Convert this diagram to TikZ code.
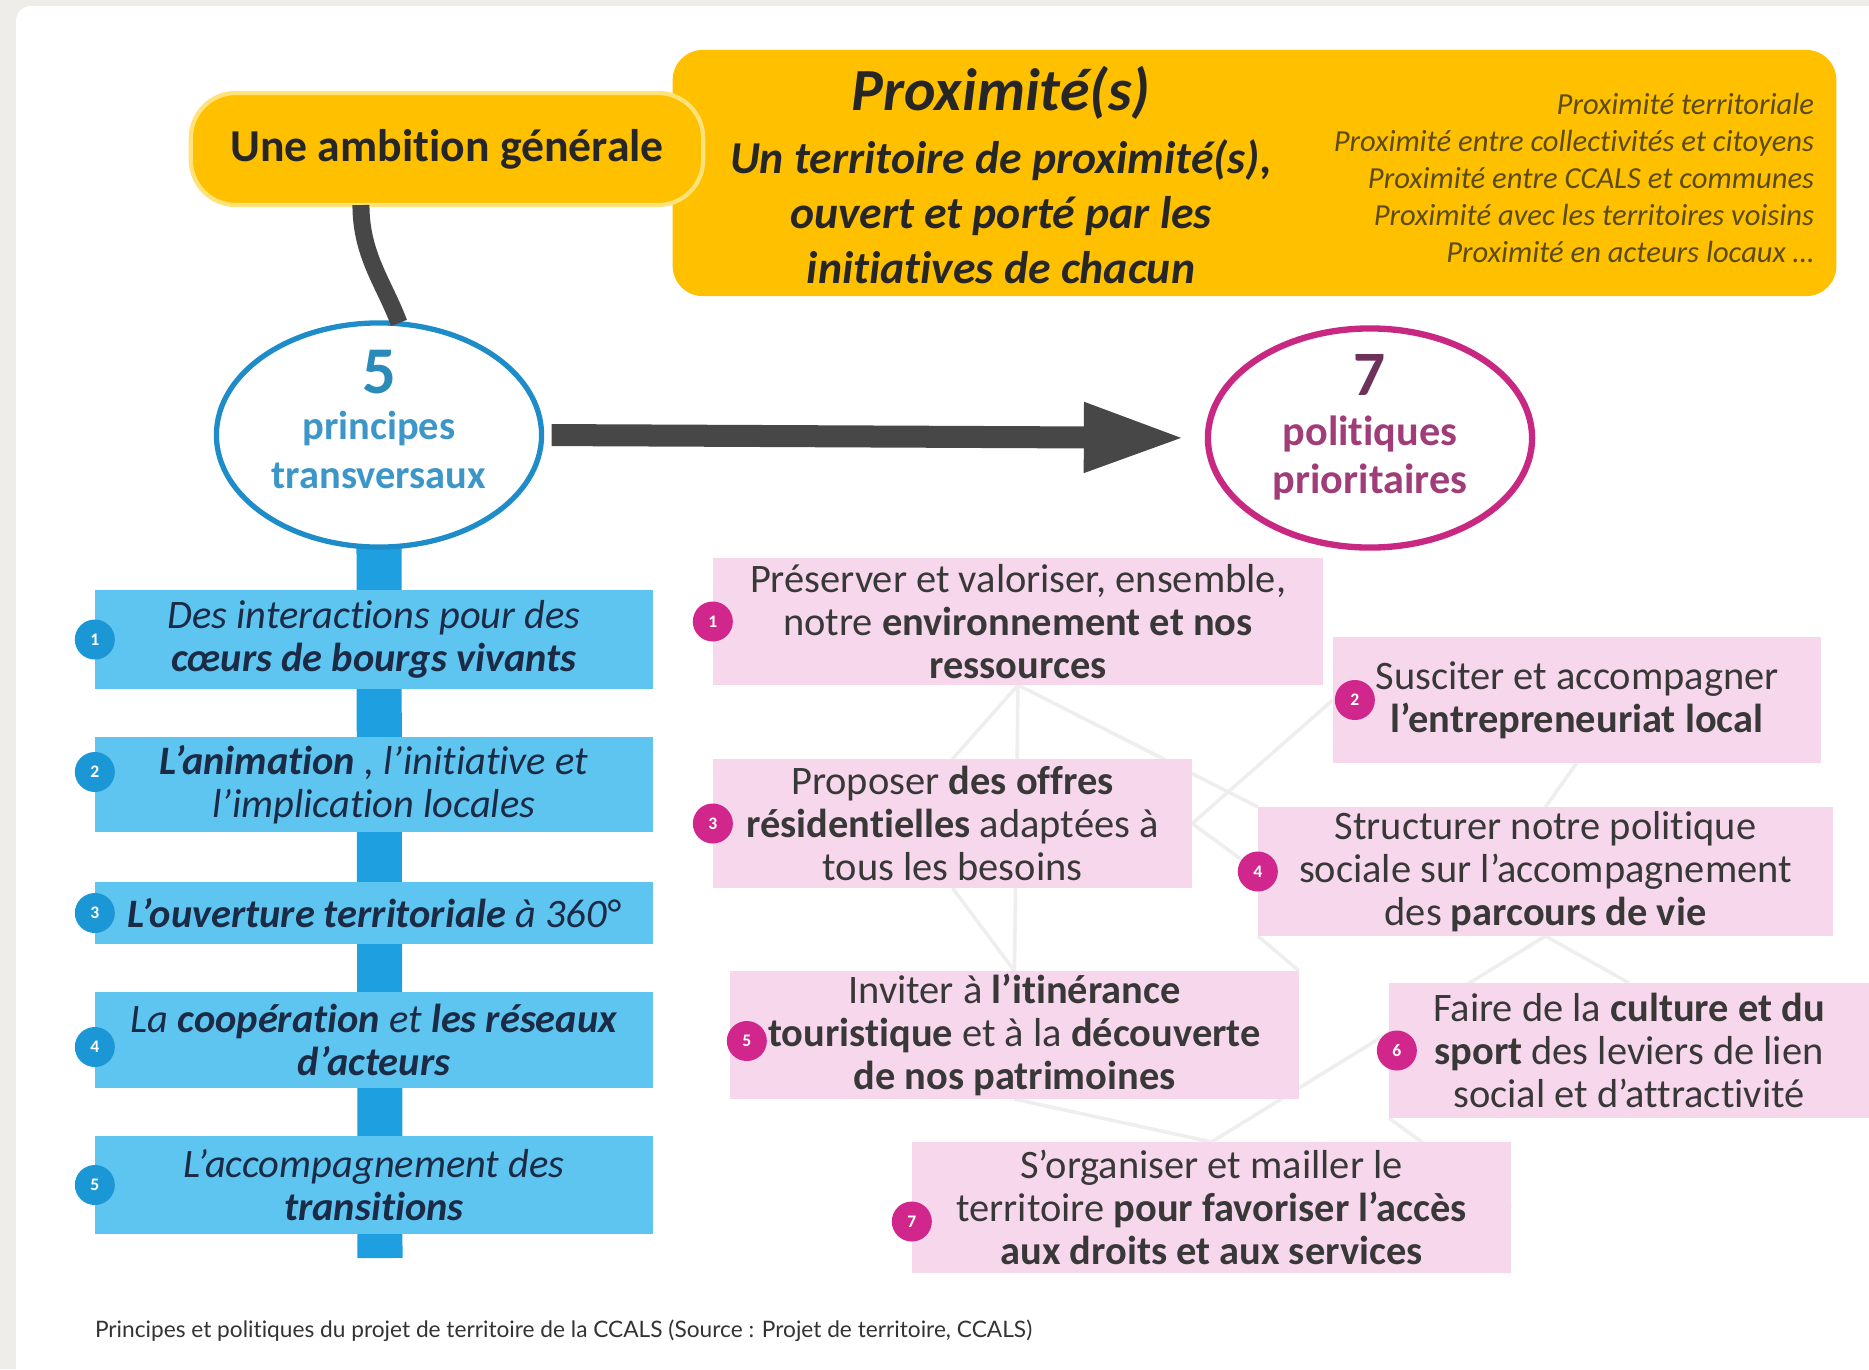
\documentclass[tikz,border=0pt]{standalone}
\usepackage{fontspec}
\setmainfont{Carlito}[Ligatures=NoCommon]
\newfontfamily\capfont{Lato}[Ligatures=NoCommon]
\usetikzlibrary{positioning,shapes.geometric,arrows.meta,backgrounds}
\pgfdeclarelayer{card}
\pgfsetlayers{card,background,main}

\definecolor{gold}{HTML}{FFC000}
\definecolor{goldline}{HTML}{FFE27A}
\definecolor{ink}{HTML}{262626}
\definecolor{greyarr}{HTML}{474747}
\definecolor{skyfill}{HTML}{5EC4F0}
\definecolor{skydark}{HTML}{1C97D6}
\definecolor{spinecol}{HTML}{1EA0E0}
\definecolor{navy}{HTML}{1B2A45}
\definecolor{ringblue}{HTML}{1E8CC8}
\definecolor{txtblue}{HTML}{3C96C8}
\definecolor{numblue}{HTML}{2A8AB8}
\definecolor{pinkfill}{HTML}{F7D7EC}
\definecolor{badgepink}{HTML}{D1278C}
\definecolor{ringpink}{HTML}{C82882}
\definecolor{txtpink}{HTML}{A03C78}
\definecolor{numpink}{HTML}{6E325A}
\definecolor{beige}{HTML}{EFEDE9}
\definecolor{meshcol}{HTML}{EEEEEE}
\definecolor{smalltxt}{HTML}{5C4B12}
\definecolor{captxt}{HTML}{333333}

\begin{document}
\begin{tikzpicture}[
    x=0.01cm, y=0.01cm,
    every node/.style={inner sep=0pt, outer sep=0pt},
    ambbox/.style={rectangle, rounded corners=0.45cm, fill=gold, draw=goldline, line width=1.2pt,
      minimum width=5.12cm, minimum height=1.12cm, text=ink, font={\bfseries\fontsize{13}{15}\selectfont}},
    proxbox/.style={rectangle, rounded corners=0.3cm, fill=gold, minimum width=11.63cm, minimum height=2.46cm},
    ell5/.style={ellipse, draw=ringblue, line width=1.5pt, fill=white, minimum width=3.25cm, minimum height=2.24cm},
    ell7/.style={ellipse, draw=ringpink, line width=1.8pt, fill=white, minimum width=3.24cm, minimum height=2.19cm},
    prin/.style={rectangle, fill=skyfill, minimum width=5.58cm, align=center, text=navy,
      font={\itshape\fontsize{11.5}{12.3}\selectfont}},
    pol/.style={rectangle, fill=pinkfill, align=center, text=black!78,
      font={\fontsize{11.5}{12.3}\selectfont}},
    bb/.style={circle, fill=skydark, minimum size=0.4cm, text=white, font={\bfseries\fontsize{5}{5}\selectfont}},
    pb/.style={circle, fill=badgepink, minimum size=0.4cm, text=white, font={\bfseries\fontsize{5}{5}\selectfont}},
    conn/.style={draw=greyarr, line width=0.17cm},
    bigarr/.style={draw=greyarr, line width=0.22cm, -{Triangle[length=1.02cm, width=0.64cm]},
      shorten <=0.1cm, shorten >=0.22cm},
    spine/.style={draw=spinecol, line width=0.45cm},
    mesh/.style={draw=meshcol, line width=1pt}
  ]
  \useasboundingbox (0,0) rectangle (1869,-1369);

  % card behind everything
  \begin{pgfonlayer}{card}
    \fill[beige] (0,0) rectangle (1869,-1369);
    \fill[white, rounded corners=0.15cm] (16,-6) rectangle (1950,-1450);
  \end{pgfonlayer}

  % Top boxes
  \node[proxbox] (prox) at (1254.5,-173) {};
  \node[ambbox] (amb) at (447,-149) {Une ambition générale};
  \node[text=ink, font={\bfseries\itshape\fontsize{17}{19}\selectfont}] (proxtitle) at (1001,-93) {Proximité(s)};
  \node[text=ink, align=center, font={\bfseries\itshape\fontsize{13}{15.6}\selectfont}] (proxsub) at (1001,-212)
    {Un territoire de proximité(s),\\ouvert et porté par les\\initiatives de chacun};
  \node[anchor=east, text=smalltxt, align=right, font={\itshape\fontsize{8.7}{10.5}\selectfont}] (proxlist) at (1814,-178)
    {Proximité territoriale\\Proximité entre collectivités et citoyens\\Proximité entre CCALS et communes\\Proximité avec les territoires voisins\\Proximité en acteurs locaux …};

  % The two ellipses
  \node[ell5] (cinq) at (379,-435) {};
  \node[text=numblue, font={\bfseries\fontsize{19}{21}\selectfont}] (cinqnum) at (379,-372) {5};
  \node[text=txtblue, align=center, font={\bfseries\fontsize{11.5}{13.7}\selectfont}] (cinqtxt) at (379,-450)
    {principes\\transversaux};
  \node[ell7] (sept) at (1370,-438) {};
  \node[text=numpink, font={\bfseries\fontsize{18}{20}\selectfont}] (septnum) at (1370,-375) {7};
  \node[text=txtpink, align=center, font={\bfseries\fontsize{12}{13.9}\selectfont}] (septtxt) at (1370,-458)
    {politiques\\prioritaires};

  % Principes transversaux
  \node[prin, minimum height=0.99cm] (b1) at (374,-639.5) {Des interactions pour des\\\textbf{cœurs de bourgs vivants}};
  \node[prin, minimum height=0.95cm] (b2) at (374,-784.5) {\textbf{L’animation} , l’initiative et\\l’implication locales};
  \node[prin, minimum height=0.62cm] (b3) at (374,-913) {\textbf{L’ouverture territoriale} à 360°};
  \node[prin, minimum height=0.96cm] (b4) at (374,-1040) {La \textbf{coopération} et \textbf{les réseaux}\\\textbf{d’acteurs}};
  \node[prin, minimum height=0.98cm] (b5) at (374,-1185) {L’accompagnement des\\\textbf{transitions}};
  \coordinate (spineend) at (380,-1258);

  \node[bb] (n1) at (b1.west) {1};
  \node[bb] (n2) at ([yshift=0.125cm]b2.west) {2};
  \node[bb] (n3) at (b3.west) {3};
  \node[bb] (n4) at ([yshift=-0.07cm]b4.west) {4};
  \node[bb] (n5) at (b5.west) {5};

  % Politiques prioritaires
  \node[pol, minimum width=6.10cm, minimum height=1.27cm] (p1) at (1018,-621.5)
    {Préserver et valoriser, ensemble,\\notre \textbf{environnement et nos}\\\textbf{ressources}};
  \node[pol, minimum width=4.88cm, minimum height=1.25cm] (p2) at (1577,-700)
    {Susciter et accompagner\\\textbf{l’entrepreneuriat local}};
  \node[pol, minimum width=4.79cm, minimum height=1.29cm] (p3) at (952.5,-823.5)
    {Proposer \textbf{des offres}\\\textbf{résidentielles} adaptées à\\tous les besoins};
  \node[pol, minimum width=5.75cm, minimum height=1.29cm] (p4) at (1545.5,-871.5)
    {Structurer notre politique\\sociale sur l’accompagnement\\des \textbf{parcours de vie}};
  \node[pol, minimum width=5.69cm, minimum height=1.28cm] (p5) at (1014.5,-1035)
    {Inviter à \textbf{l’itinérance}\\\textbf{touristique} et à la \textbf{découverte}\\\textbf{de nos patrimoines}};
  \node[pol, minimum width=4.80cm, minimum height=1.35cm] (p6) at (1629,-1050.5)
    {Faire de la \textbf{culture et du}\\\textbf{sport} des leviers de lien\\social et d’attractivité};
  \node[pol, minimum width=5.99cm, minimum height=1.31cm] (p7) at (1211.5,-1207.5)
    {S’organiser et mailler le\\territoire \textbf{pour favoriser l’accès}\\\textbf{aux droits et aux services}};

  \node[pb] (q1) at (p1.west) {1};
  \node[pb] (q2) at ([xshift=0.22cm]p2.west) {2};
  \node[pb] (q3) at (p3.west) {3};
  \node[pb] (q4) at (p4.west) {4};
  \node[pb] (q5) at ([xshift=0.17cm, yshift=-0.06cm]p5.west) {5};
  \node[pb] (q6) at ([xshift=0.08cm]p6.west) {6};
  \node[pb] (q7) at ([yshift=-0.14cm]p7.west) {7};

  % Caption
  \node[anchor=west, text=captxt, font={\capfont\fontsize{6.45}{7.5}\selectfont}] (caption) at (95,-1331)
    {Principes et politiques du projet de territoire de la CCALS (Source : Projet de territoire, CCALS)};

  % Links
  \draw[conn] ([xshift=-0.86cm]amb.south) .. controls +(0,-50) and +(-15,40) .. ([xshift=0.2cm]cinq.north);
  \draw[bigarr] (cinq.east) -- (sept.west);

  \begin{pgfonlayer}{background}
    \draw[spine] (cinq.south) -- (spineend);
    % faint mesh between the policies
    \draw[mesh] (p1.south) -- (p3.north);
    \draw[mesh] (p1.south) -- (p4.north west);
    \draw[mesh] (p1.south) -- (p5.north);
    \draw[mesh] (p3.east) -- (p2.west);
    \draw[mesh] (p2.south) -- (p4.north);
    \draw[mesh] (p3.south) -- (p5.north);
    \draw[mesh] (p3.east) -- (p4.west);
    \draw[mesh] (p4.south west) -- (p5.north east);
    \draw[mesh] (p4.south) -- (p6.north);
    \draw[mesh] (p5.south) -- (p7.north);
    \draw[mesh] (p6.south west) -- (p7.east);
    \draw[mesh] (p4.south) -- (p7.north);
  \end{pgfonlayer}

\end{tikzpicture}
\end{document}
